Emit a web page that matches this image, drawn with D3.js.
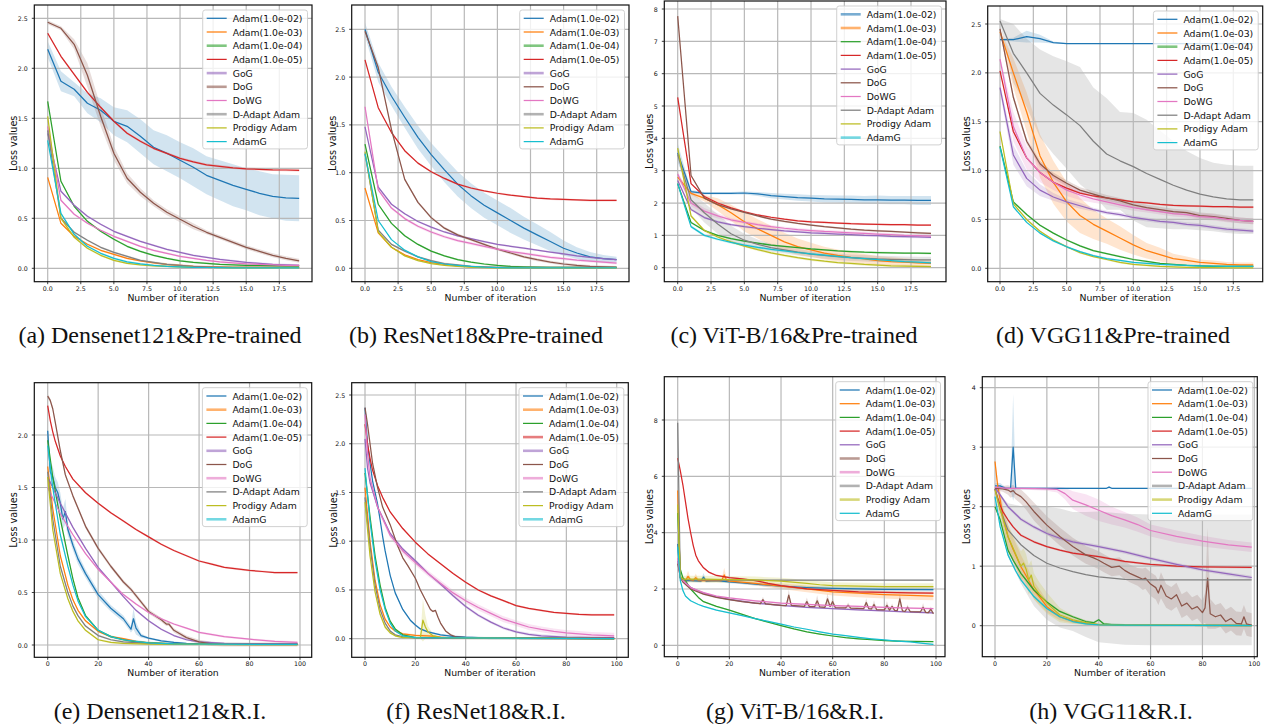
<!DOCTYPE html>
<html><head><meta charset="utf-8">
<script src="https://cdn.jsdelivr.net/npm/d3@7"></script>
<style>body{margin:0;background:#fff;} svg{display:block;}</style>
</head><body><svg id="fig" width="1270" height="727"></svg>
<script>
// ---------------- DATA ----------------
const seriesNames = ["Adam(1.0e-02)","Adam(1.0e-03)","Adam(1.0e-04)","Adam(1.0e-05)","GoG","DoG","DoWG","D-Adapt Adam","Prodigy Adam","AdamG"];
const captions = ["(a) Densenet121&Pre-trained","(b) ResNet18&Pre-trained","(c) ViT-B/16&Pre-trained","(d) VGG11&Pre-trained",
                  "(e) Densenet121&R.I.","(f) ResNet18&R.I.","(g) ViT-B/16&R.I.","(h) VGG11&R.I."];
const topXTicks = [0,2.5,5,7.5,10,12.5,15,17.5];
const botXTicks = [0,20,40,60,80,100];
const yTicksA = [0,0.5,1,1.5,2,2.5];
const yTicksC = [0,1,2,3,4,5,6,7,8];
const yTicksE = [0,0.5,1,1.5,2];
const yTicksG = [0,2,4,6,8];
const yTicksH = [0,1,2,3,4];

const topIters = [0,1,2,3,4,5,6,7,8,9,10,11,12,13,14,15,16,17,18,19];

// (a) Densenet121 & Pre-trained
const lossA = [
 [2.19,1.87,1.79,1.65,1.58,1.47,1.42,1.32,1.21,1.15,1.08,1.01,0.93,0.88,0.83,0.79,0.75,0.72,0.705,0.70],
 [0.91,0.45,0.32,0.24,0.18,0.14,0.10,0.075,0.055,0.04,0.03,0.02,0.015,0.012,0.01,0.01,0.01,0.01,0.01,0.01],
 [1.67,0.87,0.62,0.47,0.37,0.29,0.22,0.17,0.13,0.10,0.075,0.06,0.05,0.04,0.035,0.03,0.028,0.026,0.025,0.025],
 [2.35,2.12,1.94,1.76,1.61,1.47,1.35,1.27,1.20,1.15,1.10,1.065,1.035,1.02,1.005,0.995,0.99,0.985,0.983,0.98],
 [1.35,0.77,0.63,0.52,0.44,0.37,0.32,0.27,0.23,0.19,0.16,0.13,0.11,0.09,0.075,0.06,0.05,0.04,0.035,0.03],
 [2.46,2.40,2.24,1.93,1.52,1.15,0.90,0.76,0.65,0.56,0.49,0.42,0.36,0.31,0.26,0.21,0.17,0.13,0.10,0.075],
 [1.42,0.68,0.54,0.45,0.38,0.32,0.27,0.22,0.18,0.15,0.12,0.10,0.08,0.065,0.055,0.045,0.04,0.035,0.03,0.03],
 [1.38,0.50,0.36,0.28,0.21,0.16,0.12,0.08,0.06,0.04,0.03,0.02,0.015,0.012,0.01,0.01,0.01,0.01,0.01,0.01],
 [1.52,0.50,0.31,0.20,0.13,0.08,0.05,0.035,0.025,0.02,0.015,0.01,0.008,0.006,0.005,0.005,0.005,0.005,0.005,0.005],
 [1.28,0.55,0.34,0.22,0.15,0.10,0.065,0.045,0.03,0.02,0.015,0.01,0.008,0.006,0.005,0.005,0.005,0.005,0.005,0.005]
];
const spreadA = [
 [0.08,0.1,0.07,0.1,0.12,0.14,0.16,0.17,0.17,0.18,0.18,0.19,0.19,0.2,0.21,0.21,0.22,0.22,0.23,0.23],
 0.01,0.01,0.012,0.01,
 [0.02,0.02,0.05,0.12,0.1,0.07,0.05,0.04,0.03,0.03,0.03,0.03,0.02,0.02,0.02,0.02,0.02,0.02,0.02,0.02],
 0.01,0.01,0.01,0.01
];

// (b) ResNet18 & Pre-trained
const lossB = [
 [2.50,2.05,1.80,1.58,1.37,1.19,1.03,0.88,0.76,0.66,0.58,0.50,0.42,0.35,0.28,0.21,0.16,0.12,0.10,0.09],
 [0.84,0.37,0.22,0.14,0.09,0.06,0.04,0.025,0.015,0.01,0.008,0.006,0.005,0.005,0.005,0.005,0.005,0.005,0.005,0.005],
 [1.30,0.67,0.47,0.34,0.25,0.18,0.13,0.09,0.065,0.045,0.03,0.02,0.015,0.012,0.01,0.01,0.01,0.01,0.01,0.01],
 [2.18,1.68,1.42,1.23,1.10,1.01,0.94,0.88,0.84,0.81,0.785,0.765,0.75,0.735,0.725,0.72,0.715,0.71,0.71,0.71],
 [1.48,0.85,0.67,0.57,0.49,0.43,0.38,0.34,0.31,0.28,0.25,0.23,0.21,0.19,0.17,0.15,0.13,0.115,0.10,0.09],
 [2.48,2.10,1.45,0.93,0.69,0.53,0.42,0.35,0.30,0.25,0.20,0.16,0.12,0.09,0.065,0.045,0.03,0.02,0.015,0.01],
 [1.69,0.82,0.63,0.52,0.44,0.38,0.33,0.29,0.26,0.23,0.20,0.175,0.155,0.135,0.115,0.10,0.085,0.075,0.065,0.055],
 [1.20,0.40,0.25,0.18,0.12,0.08,0.05,0.035,0.02,0.015,0.01,0.01,0.01,0.01,0.01,0.01,0.01,0.01,0.01,0.01],
 [1.22,0.38,0.22,0.13,0.08,0.05,0.03,0.02,0.012,0.008,0.005,0.005,0.005,0.005,0.005,0.005,0.005,0.005,0.005,0.005],
 [1.20,0.50,0.30,0.19,0.12,0.07,0.045,0.03,0.02,0.012,0.008,0.005,0.005,0.005,0.005,0.005,0.005,0.005,0.005,0.005]
];
const spreadB = [
 [0.07,0.1,0.1,0.11,0.12,0.12,0.13,0.13,0.13,0.13,0.13,0.13,0.12,0.11,0.1,0.08,0.06,0.05,0.04,0.03],
 0.005,0.01,0.01,0.01,0.015,0.015,0.01,0.005,0.005
];

// (c) ViT-B/16 & Pre-trained
const lossC = [
 [3.55,2.35,2.30,2.30,2.30,2.31,2.28,2.23,2.20,2.17,2.15,2.13,2.12,2.11,2.10,2.10,2.09,2.09,2.08,2.08],
 [2.80,2.30,2.15,1.95,1.70,1.42,1.20,1.00,0.80,0.65,0.55,0.45,0.38,0.32,0.27,0.22,0.19,0.17,0.15,0.13],
 [2.60,1.40,1.15,1.00,0.90,0.82,0.76,0.70,0.66,0.62,0.58,0.55,0.52,0.50,0.48,0.47,0.46,0.45,0.45,0.44],
 [5.27,2.60,2.20,2.00,1.85,1.73,1.63,1.56,1.50,1.45,1.42,1.40,1.38,1.36,1.35,1.34,1.33,1.33,1.32,1.32],
 [2.70,1.80,1.55,1.42,1.33,1.27,1.22,1.18,1.14,1.11,1.08,1.06,1.04,1.02,1.00,0.99,0.97,0.96,0.95,0.94],
 [7.78,2.85,2.15,1.95,1.82,1.71,1.60,1.50,1.43,1.37,1.32,1.27,1.23,1.19,1.16,1.14,1.12,1.10,1.08,1.06],
 [2.90,2.00,1.75,1.60,1.48,1.40,1.33,1.27,1.22,1.18,1.15,1.12,1.10,1.08,1.06,1.04,1.02,1.00,0.99,0.98],
 [3.50,2.10,1.70,1.35,1.05,0.85,0.72,0.62,0.55,0.48,0.42,0.38,0.34,0.31,0.29,0.27,0.26,0.25,0.24,0.24],
 [3.70,1.60,1.15,0.95,0.80,0.67,0.56,0.46,0.38,0.31,0.25,0.20,0.16,0.13,0.10,0.08,0.06,0.05,0.04,0.03],
 [2.60,1.27,1.00,0.88,0.78,0.70,0.63,0.57,0.52,0.47,0.43,0.39,0.35,0.31,0.28,0.25,0.22,0.19,0.17,0.15]
];
const spreadC = [
 [0.3,0.05,0.04,0.04,0.04,0.05,0.06,0.08,0.09,0.1,0.1,0.11,0.11,0.12,0.12,0.13,0.13,0.13,0.14,0.14],
 [0.1,0.05,0.1,0.2,0.25,0.3,0.3,0.3,0.28,0.25,0.22,0.2,0.18,0.16,0.15,0.14,0.13,0.12,0.11,0.1],
 0.03,0.03,0.04,0.03,
 [0.1,0.1,0.1,0.08,0.06,0.05,0.05,0.05,0.05,0.05,0.05,0.05,0.05,0.05,0.05,0.05,0.05,0.05,0.05,0.05],
 [0.15,0.25,0.3,0.3,0.25,0.2,0.15,0.12,0.1,0.1,0.1,0.1,0.1,0.1,0.1,0.1,0.1,0.1,0.1,0.1],
 0.04,0.04
];

// (d) VGG11 & Pre-trained
const lossD = [
 [2.34,2.34,2.37,2.35,2.31,2.30,2.30,2.30,2.30,2.30,2.30,2.30,2.30,2.30,2.30,2.30,2.30,2.30,2.30,2.30],
 [2.42,2.00,1.60,1.15,0.88,0.68,0.54,0.45,0.38,0.31,0.24,0.18,0.14,0.10,0.08,0.06,0.05,0.04,0.035,0.035],
 [1.25,0.68,0.55,0.44,0.36,0.29,0.23,0.18,0.15,0.12,0.09,0.07,0.05,0.04,0.03,0.025,0.02,0.02,0.02,0.02],
 [2.02,1.40,1.13,0.98,0.88,0.82,0.77,0.74,0.72,0.70,0.68,0.67,0.655,0.645,0.64,0.635,0.63,0.63,0.625,0.625],
 [1.85,1.16,0.92,0.80,0.73,0.68,0.64,0.60,0.57,0.55,0.52,0.50,0.48,0.47,0.45,0.44,0.42,0.40,0.39,0.38],
 [2.45,1.75,1.30,1.07,0.95,0.87,0.80,0.76,0.72,0.69,0.65,0.62,0.60,0.58,0.57,0.54,0.53,0.51,0.49,0.48],
 [2.14,1.45,1.13,0.98,0.88,0.80,0.75,0.71,0.68,0.65,0.62,0.60,0.58,0.56,0.55,0.53,0.52,0.50,0.49,0.48],
 [2.53,2.20,2.00,1.79,1.67,1.57,1.46,1.30,1.17,1.10,1.04,0.97,0.91,0.85,0.80,0.76,0.73,0.71,0.70,0.70],
 [1.40,0.66,0.50,0.38,0.29,0.22,0.16,0.12,0.09,0.06,0.04,0.03,0.02,0.015,0.01,0.008,0.006,0.005,0.005,0.005],
 [1.24,0.63,0.47,0.36,0.28,0.22,0.17,0.13,0.10,0.08,0.06,0.05,0.04,0.035,0.03,0.025,0.022,0.02,0.02,0.02]
];
const spreadD = [
 [0.01,0.02,0.06,0.04,0.01,0.005,0.005,0.005,0.005,0.005,0.005,0.005,0.005,0.005,0.005,0.005,0.005,0.005,0.005,0.005],
 [0.02,0.15,0.2,0.22,0.22,0.2,0.18,0.15,0.13,0.12,0.1,0.08,0.07,0.05,0.04,0.03,0.03,0.025,0.025,0.025],
 0.01,0.01,
 [0.05,0.1,0.08,0.06,0.04,0.03,0.03,0.02,0.02,0.02,0.02,0.02,0.02,0.02,0.02,0.02,0.02,0.02,0.02,0.02],
 0.03,
 [0.03,0.15,0.12,0.1,0.08,0.06,0.05,0.04,0.03,0.03,0.03,0.03,0.03,0.03,0.03,0.03,0.03,0.03,0.03,0.03],
 [0.02,0.3,0.35,0.45,0.5,0.55,0.6,0.55,0.57,0.5,0.55,0.55,0.5,0.45,0.4,0.37,0.35,0.35,0.35,0.35],
 0.01,0.01
];

// (e) Densenet121 & R.I.  ([iteration, loss])
const lossE = [
 [[0,2.04],[1,1.65],[2,1.6],[3,1.5],[4,1.45],[5,1.35],[6,1.2],[7,1.27],[8,1.1],[10,0.95],[12,0.82],[15,0.68],[20,0.48],[25,0.35],[30,0.25],[33,0.15],[34,0.25],[35,0.16],[37,0.09],[40,0.065],[45,0.04],[50,0.025],[55,0.015],[60,0.01],[99,0.005]],
 [[0,1.7],[2,1.3],[5,0.85],[8,0.57],[10,0.43],[12,0.33],[15,0.23],[20,0.13],[25,0.08],[30,0.06],[35,0.035],[40,0.02],[50,0.01],[99,0.005]],
 [[0,1.95],[2,1.6],[5,1.2],[8,0.85],[10,0.63],[12,0.45],[15,0.28],[20,0.14],[25,0.08],[30,0.05],[35,0.03],[40,0.02],[50,0.01],[99,0.005]],
 [[0,2.28],[1,2.14],[2,2.03],[3,1.94],[5,1.8],[7,1.7],[10,1.58],[15,1.45],[20,1.35],[25,1.26],[30,1.18],[35,1.1],[40,1.03],[45,0.96],[50,0.9],[55,0.85],[60,0.8],[65,0.77],[70,0.74],[75,0.725],[80,0.71],[85,0.70],[90,0.69],[95,0.69],[99,0.69]],
 [[0,1.6],[2,1.5],[5,1.35],[10,1.12],[15,0.92],[20,0.74],[25,0.6],[30,0.46],[35,0.33],[40,0.23],[45,0.15],[50,0.09],[55,0.05],[60,0.03],[70,0.015],[80,0.01],[99,0.01]],
 [[0,2.37],[1,2.33],[2,2.25],[3,2.12],[5,1.85],[7,1.62],[10,1.42],[15,1.13],[20,0.92],[25,0.75],[30,0.6],[33,0.53],[35,0.47],[40,0.32],[45,0.24],[47,0.2],[48,0.2],[50,0.14],[55,0.07],[60,0.03],[65,0.01],[70,0.005],[99,0.005]],
 [[0,1.5],[2,1.4],[5,1.25],[10,1.05],[15,0.87],[20,0.72],[25,0.6],[30,0.48],[35,0.39],[40,0.31],[45,0.25],[50,0.2],[55,0.16],[60,0.12],[70,0.08],[80,0.055],[90,0.035],[99,0.025]],
 [[0,1.65],[2,1.2],[5,0.75],[8,0.5],[10,0.37],[12,0.28],[15,0.18],[20,0.09],[25,0.05],[30,0.03],[40,0.015],[50,0.008],[99,0.003]],
 [[0,1.6],[2,1.1],[5,0.68],[8,0.44],[10,0.32],[12,0.23],[15,0.14],[20,0.05],[25,0.025],[30,0.015],[40,0.008],[99,0.003]],
 [[0,1.9],[2,1.5],[5,1.05],[8,0.75],[10,0.57],[12,0.42],[15,0.27],[20,0.14],[25,0.08],[30,0.05],[40,0.02],[50,0.01],[99,0.005]]
];
const spreadE = [
 [0.05,0.1,0.1,0.1,0.1,0.1,0.1,0.12,0.06,0.05,0.05,0.04,0.04,0.03,0.03,0.03,0.1,0.06,0.02,0.01,0.01,0.01,0.005,0.005,0.005],
 0.01,0.01,0.01,0.01,0.02,0.01,0.01,0.01,0.01
];

// (f) ResNet18 & R.I.
const lossF = [
 [[0,2.37],[1,2.0],[2,1.8],[3,1.62],[4,1.5],[5,1.38],[6,1.22],[7,1.05],[8,0.9],[10,0.65],[12,0.47],[15,0.3],[18,0.19],[20,0.14],[22,0.1],[25,0.07],[30,0.04],[35,0.025],[40,0.015],[50,0.005],[99,0.0]],
 [[0,1.55],[2,1.0],[4,0.6],[6,0.35],[8,0.2],[10,0.12],[12,0.08],[15,0.05],[20,0.035],[25,0.03],[28,0.025],[30,0.015],[35,0.005],[99,0.0]],
 [[0,1.7],[2,1.25],[4,0.85],[6,0.55],[8,0.32],[10,0.18],[12,0.1],[15,0.04],[20,0.01],[99,0.0]],
 [[0,2.2],[1,2.0],[2,1.85],[3,1.73],[5,1.57],[7,1.45],[10,1.3],[15,1.13],[20,0.99],[25,0.87],[30,0.77],[35,0.67],[40,0.58],[45,0.5],[50,0.44],[55,0.39],[60,0.34],[65,0.31],[70,0.29],[75,0.27],[80,0.26],[85,0.25],[90,0.245],[99,0.245]],
 [[0,2.05],[1,1.75],[2,1.6],[5,1.35],[10,1.08],[15,0.92],[20,0.8],[25,0.67],[30,0.56],[35,0.44],[40,0.33],[45,0.24],[50,0.17],[55,0.11],[60,0.07],[65,0.045],[70,0.03],[80,0.015],[90,0.01],[99,0.01]],
 [[0,2.37],[1,2.2],[2,2.0],[3,1.8],[5,1.55],[7,1.35],[10,1.17],[13,0.95],[15,0.83],[17,0.75],[20,0.62],[22,0.5],[24,0.4],[26,0.3],[27,0.28],[28,0.29],[29,0.22],[30,0.16],[32,0.08],[34,0.04],[36,0.02],[40,0.01],[99,0.005]],
 [[0,2.3],[1,1.9],[2,1.65],[5,1.35],[10,1.06],[15,0.9],[20,0.78],[25,0.67],[30,0.57],[35,0.47],[40,0.39],[45,0.32],[50,0.26],[55,0.2],[60,0.16],[65,0.12],[70,0.095],[75,0.075],[80,0.06],[90,0.04],[99,0.03]],
 [[0,1.45],[2,0.95],[4,0.55],[6,0.3],[8,0.16],[10,0.08],[12,0.04],[15,0.02],[20,0.005],[99,0.0]],
 [[0,1.4],[2,0.85],[4,0.48],[6,0.25],[8,0.12],[10,0.06],[12,0.03],[15,0.01],[22,0.01],[23,0.19],[24,0.12],[25,0.07],[27,0.03],[30,0.01],[99,0.0]],
 [[0,1.75],[2,1.2],[4,0.8],[6,0.5],[8,0.3],[10,0.16],[12,0.08],[15,0.03],[20,0.01],[99,0.0]]
];
const spreadF = [
 0.01,0.01,0.01,0.01,0.015,0.01,0.03,0.005,
 [0.02,0.02,0.02,0.02,0.02,0.01,0.01,0.01,0.01,0.22,0.12,0.06,0.02,0.01,0.0],
 0.01
];

// (g) ViT-B/16 & R.I.
const lossG = [
 [[0,3.6],[1,2.4],[2,2.3],[5,2.3],[9,2.28],[10,2.42],[11,2.28],[15,2.3],[20,2.25],[25,2.22],[30,2.17],[40,2.1],[50,2.05],[60,2.02],[70,2.0],[80,1.99],[99,1.98]],
 [[0,5.5],[1,2.4],[2,2.32],[3,2.3],[4,2.45],[5,2.32],[6,2.3],[7,2.4],[8,2.3],[17,2.3],[18,2.5],[19,2.3],[20,2.28],[30,2.2],[40,2.1],[50,2.0],[60,1.9],[70,1.85],[80,1.8],[90,1.77],[99,1.75]],
 [[0,4.7],[1,2.7],[2,2.4],[3,2.3],[5,2.0],[8,1.7],[10,1.55],[15,1.38],[20,1.25],[25,1.1],[30,0.95],[35,0.82],[40,0.7],[45,0.58],[50,0.48],[55,0.4],[60,0.33],[65,0.27],[70,0.23],[75,0.2],[80,0.17],[85,0.15],[90,0.14],[99,0.13]],
 [[0,6.65],[1,6.2],[2,5.7],[3,5.1],[4,4.5],[5,4.0],[6,3.55],[7,3.2],[8,3.0],[10,2.75],[12,2.6],[15,2.48],[20,2.4],[25,2.36],[30,2.3],[35,2.2],[40,2.12],[50,2.0],[60,1.95],[70,1.9],[80,1.88],[90,1.86],[99,1.85]],
 [[0,3.0],[1,2.4],[2,2.3],[5,2.05],[10,1.85],[15,1.72],[20,1.63],[30,1.5],[40,1.42],[50,1.35],[60,1.3],[70,1.26],[80,1.22],[90,1.18],[99,1.15]],
 [[0,2.9],[1,2.45],[2,2.25],[5,2.0],[10,1.82],[15,1.7],[20,1.62],[25,1.55],[30,1.5],[32,1.48],[33,1.62],[34,1.47],[40,1.42],[42,1.41],[43,1.78],[44,1.42],[49,1.38],[50,1.55],[51,1.37],[53,1.37],[54,1.58],[55,1.36],[57,1.35],[58,1.65],[59,1.38],[60,1.55],[61,1.34],[65,1.33],[66,1.42],[67,1.32],[72,1.3],[73,1.52],[74,1.3],[75,1.29],[76,1.45],[77,1.27],[80,1.26],[81,1.42],[82,1.25],[83,1.38],[84,1.24],[85,1.23],[86,1.65],[87,1.22],[88,1.2],[89,1.35],[90,1.2],[94,1.19],[95,1.35],[96,1.17],[97,1.16],[98,1.28],[99,1.12]],
 [[0,3.1],[1,2.45],[2,2.3],[5,2.05],[10,1.87],[15,1.75],[20,1.68],[30,1.58],[40,1.5],[50,1.45],[60,1.41],[70,1.38],[80,1.35],[90,1.32],[99,1.3]],
 [[0,7.9],[1,2.4],[2,2.33],[5,2.32],[20,2.31],[50,2.31],[99,2.31]],
 [[0,5.0],[1,2.45],[2,2.35],[10,2.35],[20,2.33],[30,2.32],[40,2.28],[50,2.2],[55,2.15],[60,2.12],[70,2.1],[80,2.08],[99,2.08]],
 [[0,3.5],[1,2.3],[2,1.95],[3,1.75],[5,1.58],[8,1.45],[10,1.38],[15,1.25],[20,1.15],[25,1.05],[30,0.95],[35,0.85],[40,0.75],[45,0.65],[50,0.57],[55,0.48],[60,0.4],[65,0.34],[70,0.28],[75,0.23],[80,0.19],[85,0.15],[90,0.12],[95,0.07],[99,0.03]]
];
const spreadG = [
 [0.3,0.1,0.05,0.05,0.05,0.15,0.05,0.05,0.05,0.05,0.05,0.06,0.06,0.07,0.07,0.07,0.07],
 [0.5,0.1,0.05,0.05,0.2,0.05,0.05,0.15,0.05,0.05,0.25,0.05,0.05,0.08,0.1,0.12,0.13,0.14,0.14,0.15,0.15],
 0.02,0.03,0.03,
 [0.05,0.05,0.03,0.03,0.03,0.03,0.03,0.03,0.03,0.03,0.1,0.03,0.03,0.03,0.2,0.03,0.03,0.15,0.03,0.03,0.2,0.03,0.03,0.2,0.03,0.15,0.03,0.03,0.1,0.03,0.03,0.15,0.03,0.03,0.15,0.03,0.03,0.15,0.03,0.1,0.03,0.03,0.2,0.03,0.03,0.1,0.03,0.03,0.15,0.03,0.03,0.1,0.03],
 0.03,0.02,0.12,0.02
];

// (h) VGG11 & R.I.
const lossH = [
 [[0,2.35],[2,2.35],[4,2.31],[6,2.31],[7,3.0],[8,2.31],[43,2.31],[44,2.33],[45,2.31],[99,2.31]],
 [[0,2.76],[1,2.36],[2,2.12],[3,1.85],[5,1.5],[7,1.28],[10,0.99],[12,0.84],[15,0.6],[18,0.44],[20,0.32],[25,0.15],[30,0.08],[35,0.04],[40,0.02],[50,0.01],[99,0.0]],
 [[0,2.0],[2,1.78],[5,1.27],[7,1.1],[10,0.88],[15,0.6],[20,0.4],[25,0.24],[30,0.15],[35,0.07],[38,0.05],[40,0.1],[42,0.03],[45,0.02],[50,0.01],[99,0.005]],
 [[0,2.3],[1,2.15],[2,2.02],[3,1.92],[5,1.78],[7,1.66],[10,1.52],[15,1.41],[20,1.33],[25,1.27],[30,1.22],[40,1.16],[50,1.08],[60,1.03],[70,1.0],[80,0.99],[99,0.98]],
 [[0,2.32],[2,2.2],[5,2.0],[10,1.79],[15,1.66],[20,1.55],[25,1.47],[30,1.41],[40,1.33],[50,1.24],[60,1.13],[70,1.03],[80,0.94],[90,0.87],[99,0.81]],
 [[0,2.31],[3,2.3],[5,2.28],[6,2.25],[7,2.27],[8,2.22],[10,2.17],[12,2.08],[15,1.92],[18,1.78],[20,1.69],[25,1.5],[30,1.33],[35,1.19],[38,1.14],[40,1.1],[42,1.05],[45,0.98],[48,1.0],[50,0.93],[52,0.88],[55,0.82],[57,0.78],[58,0.8],[60,0.7],[62,0.64],[63,0.55],[64,0.68],[66,0.5],[68,0.45],[70,0.52],[72,0.33],[74,0.38],[76,0.28],[78,0.32],[80,0.22],[81,0.3],[82,0.8],[83,0.2],[85,0.15],[87,0.18],[89,0.07],[91,0.12],[93,0.04],[95,0.03],[96,0.15],[97,0.03],[98,0.02],[99,0.01]],
 [[0,2.33],[5,2.31],[10,2.31],[20,2.3],[24,2.29],[27,2.22],[30,2.11],[35,2.03],[40,1.94],[45,1.85],[50,1.78],[55,1.7],[60,1.6],[70,1.5],[80,1.42],[90,1.36],[99,1.32]],
 [[0,2.3],[2,1.95],[5,1.61],[10,1.36],[15,1.18],[20,1.05],[25,0.97],[30,0.91],[35,0.86],[40,0.82],[50,0.78],[60,0.77],[99,0.77]],
 [[0,2.28],[2,1.95],[5,1.5],[8,1.2],[10,1.0],[11,1.05],[12,0.95],[13,0.77],[14,0.85],[15,0.66],[17,0.54],[20,0.38],[25,0.18],[30,0.1],[35,0.05],[40,0.02],[50,0.01],[99,0.0]],
 [[0,2.17],[2,1.66],[5,1.19],[8,0.92],[10,0.77],[15,0.49],[20,0.29],[25,0.15],[30,0.07],[35,0.03],[40,0.015],[50,0.01],[99,0.0]]
];
const spreadH = [
 [0.05,0.05,0.02,0.02,0.9,0.02,0.01,0.02,0.01,0.01],
 [0.05,0.1,0.15,0.18,0.2,0.2,0.2,0.18,0.15,0.12,0.1,0.06,0.04,0.02,0.01,0.005,0.0],
 0.02,0.02,0.03,
 [0.03,0.05,0.08,0.1,0.1,0.1,0.12,0.13,0.15,0.15,0.15,0.15,0.15,0.15,0.15,0.15,0.15,0.15,0.15,0.15,0.15,0.15,0.18,0.18,0.2,0.2,0.2,0.22,0.2,0.2,0.2,0.2,0.2,0.2,0.2,0.2,0.25,0.85,0.25,0.2,0.2,0.2,0.2,0.2,0.2,0.2,0.2,0.2,0.2],
 [0.02,0.02,0.02,0.03,0.05,0.1,0.15,0.18,0.18,0.15,0.13,0.12,0.1,0.1,0.09,0.08,0.08],
 [0.05,0.25,0.45,0.65,0.85,0.95,1.0,1.0,1.05,1.1,1.1,1.1,1.1],
 [0.05,0.15,0.2,0.22,0.25,0.25,0.25,0.25,0.25,0.22,0.2,0.18,0.12,0.07,0.04,0.02,0.01,0.0],
 0.02
];

// ---------------- STYLE / LAYOUT ----------------
const colors = ["#1f77b4","#ff7f0e","#2ca02c","#d62728","#9467bd","#8c564b","#e377c2","#7f7f7f","#bcbd22","#17becf"];
const FONT = "'DejaVu Sans', sans-serif";
const f1 = d3.format(".1f"), fd = d3.format("d");

const panels = [
 {loss:lossA, spread:spreadA, iters:topIters, box:{l:34.3,r:312,t:5,b:281.7}, xa:[0,47.7,17.5,279.3], ya:[0,268.3,2.5,18.3], xt:topXTicks, yt:yTicksA, xf:f1, yf:f1, ylx:13.5, thick:[2,4,5,7], cap:[160,343]},
 {loss:lossB, spread:spreadB, iters:topIters, box:{l:351.7,r:629,t:5,b:281.7}, xa:[0,365,17.5,596.7], ya:[0,268.3,2.5,29.3], xt:topXTicks, yt:yTicksA, xf:f1, yf:f1, ylx:332.3, thick:[2,4,7], cap:[476,343]},
 {loss:lossC, spread:spreadC, iters:topIters, box:{l:664.3,r:946,t:1,b:281.7}, xa:[0,677.7,17.5,911], ya:[0,267.7,8,9], xt:topXTicks, yt:yTicksC, xf:f1, yf:fd, ylx:649, thick:[0,1,9], cap:[794,343]},
 {loss:lossD, spread:spreadD, iters:topIters, box:{l:987.7,r:1262.7,t:6,b:281.7}, xa:[0,1000,17.5,1233.3], ya:[0,268.3,2.5,24], xt:topXTicks, yt:yTicksA, xf:f1, yf:f1, ylx:966.7, thick:[2], cap:[1113,343]},
 {loss:lossE, spread:spreadE, box:{l:34.3,r:311.7,t:382.7,b:657.3}, xa:[0,47.7,100,300], ya:[0,645,2,435], xt:botXTicks, yt:yTicksE, xf:fd, yf:f1, ylx:13.5, thick:[1,4,6,9], cap:[160,718.5]},
 {loss:lossF, spread:spreadF, box:{l:351.7,r:628.3,t:382.7,b:657.3}, xa:[0,365,100,616.7], ya:[0,638.7,2.5,395], xt:botXTicks, yt:yTicksA, xf:fd, yf:f1, ylx:333.3, thick:[1,3,4,6,9], cap:[476,718.5]},
 {loss:lossG, spread:spreadG, box:{l:664.3,r:945,t:376.7,b:656.7}, xa:[0,677.7,100,936], ya:[0,645.3,8,420], xt:botXTicks, yt:yTicksG, xf:fd, yf:fd, ylx:649, thick:[5,6,7,8], cap:[795,718.5]},
 {loss:lossH, spread:spreadH, box:{l:982.3,r:1257.3,t:376.7,b:656.7}, xa:[0,995,100,1254.3], ya:[0,625.7,4,387.7], xt:botXTicks, yt:yTicksH, xf:fd, yf:fd, ylx:966.7, thick:[7,8], cap:[1111,718.5]}
];

const svg = d3.select("#fig");
svg.append("rect").attr("width",1270).attr("height",727).attr("fill","#fff");

panels.forEach((p, pi) => {
  const b = p.box;
  const x = d3.scaleLinear().domain([p.xa[0], p.xa[2]]).range([p.xa[1], p.xa[3]]);
  const y = d3.scaleLinear().domain([p.ya[0], p.ya[2]]).range([p.ya[1], p.ya[3]]);
  const g = svg.append("g");
  const clipId = "clip" + pi;
  g.append("clipPath").attr("id", clipId).append("rect")
    .attr("x", b.l).attr("y", b.t).attr("width", b.r - b.l).attr("height", b.b - b.t);

  const series = p.loss.map((s, si) => {
    const pts = p.iters ? p.iters.map((it, k) => [it, s[k]]) : s;
    const sp = p.spread[si];
    return pts.map((d, k) => [d[0], d[1], Array.isArray(sp) ? sp[k] : sp]);
  });

  const plot = g.append("g").attr("clip-path", `url(#${clipId})`);
  const area = d3.area().x(d => x(d[0])).y0(d => y(d[1] - d[2])).y1(d => y(d[1] + d[2]));
  series.forEach((s, si) => {
    plot.append("path").attr("d", area(s)).attr("fill", colors[si]).attr("fill-opacity", 0.2).attr("stroke", "none");
  });
  p.xt.forEach(t => plot.append("line").attr("x1", x(t)).attr("x2", x(t)).attr("y1", b.t).attr("y2", b.b)
      .attr("stroke", "#b8b8b8").attr("stroke-width", 1.2));
  p.yt.forEach(t => plot.append("line").attr("x1", b.l).attr("x2", b.r).attr("y1", y(t)).attr("y2", y(t))
      .attr("stroke", "#b8b8b8").attr("stroke-width", 1.2));
  const line = d3.line().x(d => x(d[0])).y(d => y(d[1]));
  series.forEach((s, si) => {
    plot.append("path").attr("d", line(s)).attr("fill", "none").attr("stroke", colors[si])
      .attr("stroke-width", 1.25).attr("stroke-linejoin", "round");
  });

  g.append("rect").attr("x", b.l).attr("y", b.t).attr("width", b.r - b.l).attr("height", b.b - b.t)
    .attr("fill", "none").attr("stroke", "#111").attr("stroke-width", 1.2);

  p.xt.forEach(t => {
    g.append("line").attr("x1", x(t)).attr("x2", x(t)).attr("y1", b.b).attr("y2", b.b + 2.5).attr("stroke", "#111").attr("stroke-width", 0.8);
    g.append("text").attr("x", x(t)).attr("y", b.b + 6.6).attr("text-anchor", "middle").attr("dominant-baseline", "central")
      .attr("font-family", FONT).attr("font-size", 6.3).attr("fill", "#111").text(p.xf(t));
  });
  p.yt.forEach(t => {
    g.append("line").attr("x1", b.l - 2.5).attr("x2", b.l).attr("y1", y(t)).attr("y2", y(t)).attr("stroke", "#111").attr("stroke-width", 0.8);
    g.append("text").attr("x", b.l - 6.5).attr("y", y(t)).attr("text-anchor", "end").attr("dominant-baseline", "central")
      .attr("font-family", FONT).attr("font-size", 6.3).attr("fill", "#111").text(p.yf(t));
  });

  g.append("text").attr("x", (b.l + b.r) / 2).attr("y", b.b + 15.5).attr("text-anchor", "middle").attr("dominant-baseline", "central")
    .attr("font-family", FONT).attr("font-size", 9.3).attr("fill", "#111").text("Number of iteration");
  g.append("text").attr("transform", `translate(${p.ylx},${(b.t + b.b) / 2}) rotate(-90)`).attr("text-anchor", "middle")
    .attr("dominant-baseline", "central").attr("font-family", FONT).attr("font-size", 9.6).attr("fill", "#111").text("Loss values");

  const lg = g.append("g");
  const rowH = 13.7, padTop = 8.3;
  const tmp = lg.append("g");
  let maxW = 0;
  seriesNames.forEach(n => {
    const t = tmp.append("text").attr("font-family", FONT).attr("font-size", 9.3).text(n);
    maxW = Math.max(maxW, t.node().getComputedTextLength());
  });
  tmp.remove();
  const lw = 30 + maxW + 5, lh = padTop * 2 + rowH * 9 - 1;
  const lx = b.r - 4.5 - lw, ly = b.t + 5;
  lg.append("rect").attr("x", lx).attr("y", ly).attr("width", lw).attr("height", lh).attr("rx", 2.5)
    .attr("fill", "#fff").attr("fill-opacity", 0.8).attr("stroke", "#cccccc").attr("stroke-width", 0.9);
  seriesNames.forEach((n, si) => {
    const cy = ly + padTop + si * rowH;
    const thick = p.thick.includes(si);
    lg.append("line").attr("x1", lx + 4).attr("x2", lx + 24).attr("y1", cy).attr("y2", cy)
      .attr("stroke", colors[si]).attr("stroke-width", thick ? 2.6 : 1.25).attr("stroke-opacity", thick ? 0.6 : 1);
    lg.append("text").attr("x", lx + 30).attr("y", cy).attr("dominant-baseline", "central")
      .attr("font-family", FONT).attr("font-size", 9.3).attr("fill", "#111").text(n);
  });

  svg.append("text").attr("x", p.cap[0]).attr("y", p.cap[1]).attr("text-anchor", "middle")
    .attr("font-family", "'Liberation Serif', 'Times New Roman', serif").attr("font-size", 24).attr("fill", "#111")
    .text(captions[pi]);
});
</script></body></html>
